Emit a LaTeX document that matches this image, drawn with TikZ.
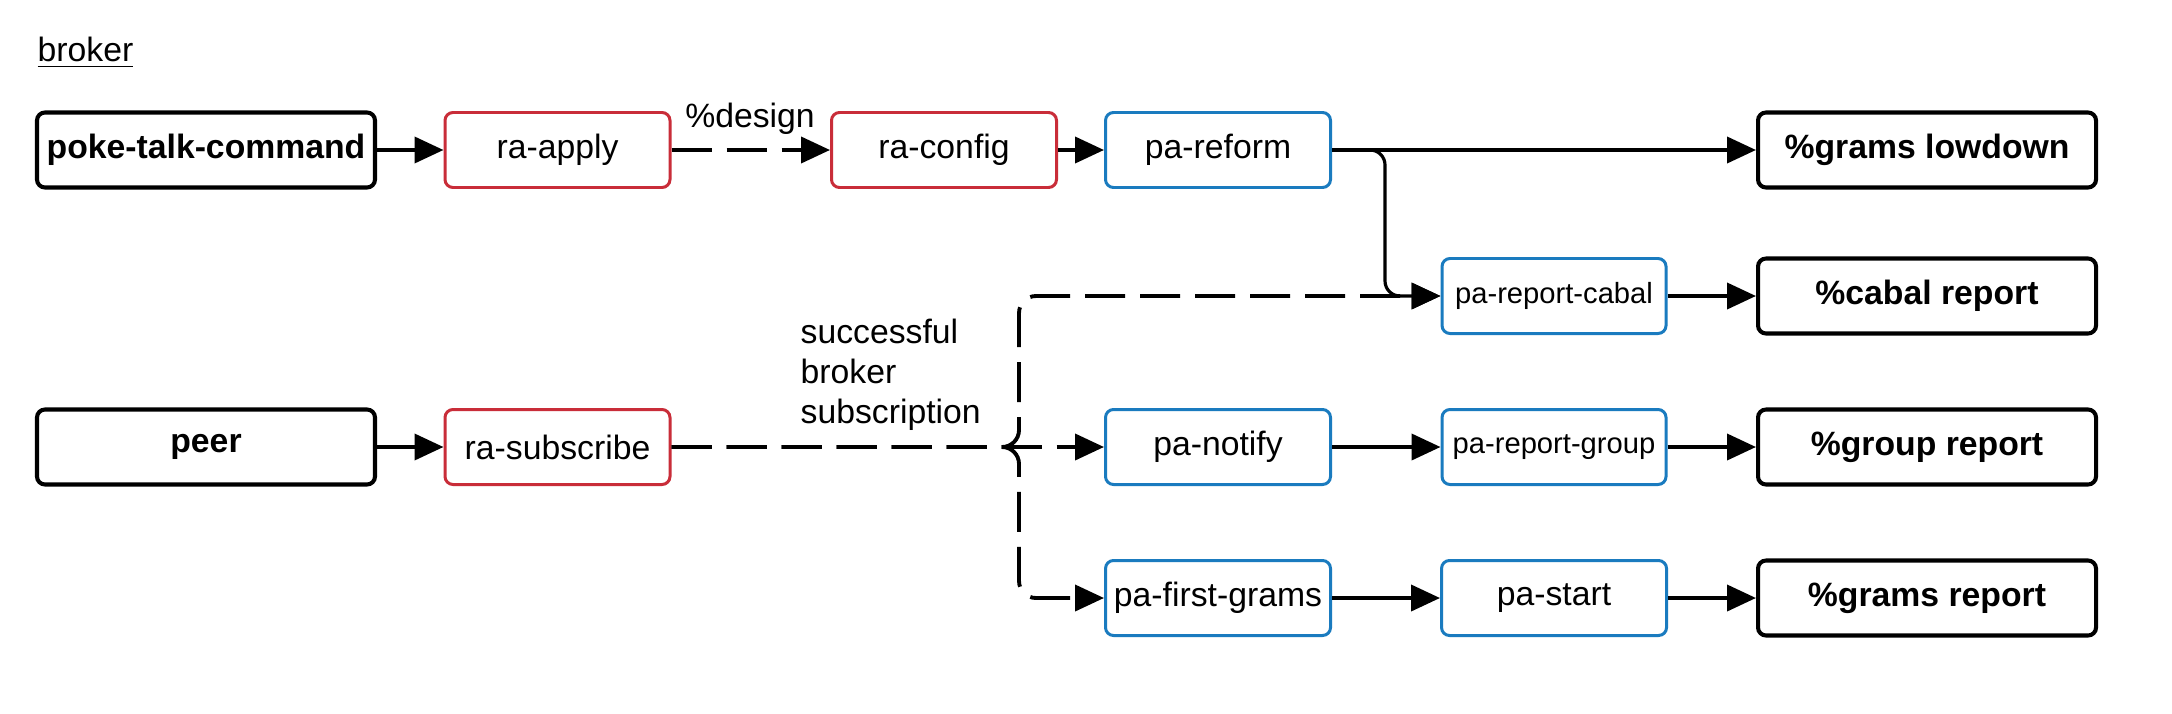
\documentclass[tikz,border=0pt]{standalone}
\usepackage{fontspec}
\setmainfont{Liberation Sans}
\usetikzlibrary{arrows.meta}

\definecolor{rared}{HTML}{C92D39}
\definecolor{pablue}{HTML}{1A7BBF}

\tikzset{
  box/.style={draw, rounded corners=0.08cm, line width=0.85pt, minimum height=0.75cm,
    inner sep=0pt, font=\fontsize{9.6}{11.4}\selectfont},
  outbox/.style={box, line width=1.15pt, minimum width=3.38cm,
    font=\fontsize{9.6}{11.4}\selectfont\bfseries},
  rabox/.style={box, draw=rared, minimum width=2.25cm},
  pabox/.style={box, draw=pablue, minimum width=2.25cm},
  smallpa/.style={pabox, minimum width=2.24cm, font=\fontsize{8.3}{10}\selectfont},
  flow/.style={line width=1.1pt, -{Triangle[length=0.29cm,width=0.26cm]}},
  dashflow/.style={flow, dash pattern=on 0.40cm off 0.15cm},
}

\begin{document}
\begin{tikzpicture}
  \fill[white] (0,0) rectangle (21.72,-7.13);
  \useasboundingbox (0,0) rectangle (21.72,-7.13);

  % Define nodes
  \node[anchor=west, inner sep=0pt, font=\fontsize{9.6}{11.4}\selectfont] (broker) at (0.37,-0.53) {\underline{broker}};
  \node[outbox] (ptc) at (2.06,-1.50) {poke-talk-command};
  \node[rabox] (apply) at (5.575,-1.50) {ra-apply};
  \node[rabox] (config) at (9.44,-1.50) {ra-config};
  \node[pabox] (reform) at (12.18,-1.50) {pa-reform};
  \node[outbox] (lowdown) at (19.27,-1.50) {\%grams lowdown};
  \node[smallpa] (rcabal) at (15.54,-2.96) {pa-report-cabal};
  \node[outbox] (cabal) at (19.27,-2.96) {\%cabal report};
  \node[outbox] (peer) at (2.06,-4.47) {peer};
  \node[rabox] (subscribe) at (5.575,-4.47) {ra-subscribe};
  \node[pabox] (notify) at (12.18,-4.47) {pa-notify};
  \node[smallpa] (rgroup) at (15.54,-4.47) {pa-report-group};
  \node[outbox] (group) at (19.27,-4.47) {\%group report};
  \node[pabox] (first) at (12.18,-5.98) {pa-first-grams};
  \node[pabox] (start) at (15.54,-5.98) {pa-start};
  \node[outbox] (gramsrep) at (19.27,-5.98) {\%grams report};

  % labels
  \node[font=\fontsize{9.6}{11.4}\selectfont] (design) at (7.50,-1.19) {\%design};
  \node[anchor=west, align=left, inner sep=0pt, font=\fontsize{9.6}{11.4}\selectfont] (success) at (8.00,-3.75)
    {successful\\broker\\subscription};

  % bends
  \coordinate (bend) at (13.85,-1.50);
  \coordinate (split) at (10.19,-4.47);

  % Draw diagram
  \draw[flow] (ptc) -- (apply);
  \draw[dashflow] (apply) -- (config);
  \draw[flow] (config) -- (reform);
  \draw[flow] (reform) -- (lowdown);
  \draw[flow, line width=0.9pt, rounded corners=0.15cm] (reform.east) -- (bend) |- (rcabal.west);
  \draw[flow] (rcabal) -- (cabal);

  \draw[flow] (peer) -- (subscribe);
  \draw[dashflow] (subscribe) -- (notify);
  \draw[dashflow, rounded corners=0.17cm] (subscribe.east) -- (split) |- (rcabal.west);
  \draw[dashflow, rounded corners=0.17cm] (subscribe.east) -- (split) |- (first.west);
  \draw[flow] (notify) -- (rgroup);
  \draw[flow] (rgroup) -- (group);
  \draw[flow] (first) -- (start);
  \draw[flow] (start) -- (gramsrep);
\end{tikzpicture}
\end{document}
